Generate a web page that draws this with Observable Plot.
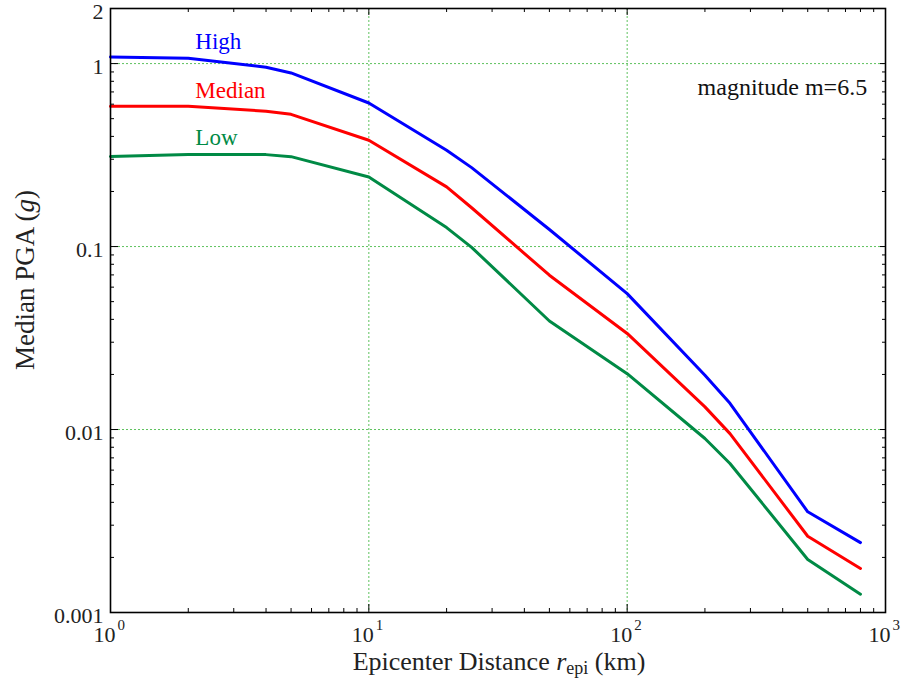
<!DOCTYPE html>
<html><head><meta charset="utf-8">
<script src="https://cdn.jsdelivr.net/npm/d3@7"></script>
<script src="https://cdn.jsdelivr.net/npm/@observablehq/plot@0.6"></script>
<style>body{margin:0;background:#fff} svg text{font-family:'Liberation Serif','Times New Roman',serif;}</style>
</head><body><div id="chart"></div>
<script>
// ---- data ----
const distance = [1, 2, 4, 5, 10, 20, 25, 50, 100, 200, 250, 500, 800];
const high   = [1.087, 1.068, 0.955, 0.889, 0.609, 0.336, 0.270, 0.124, 0.0553, 0.0198, 0.0139, 0.00355, 0.00241];
const median = [0.584, 0.584, 0.549, 0.528, 0.381, 0.212, 0.163, 0.0697, 0.0335, 0.0133, 0.0095, 0.00261, 0.00174];
const low    = [0.311, 0.318, 0.318, 0.310, 0.240, 0.127, 0.099, 0.0392, 0.0202, 0.00893, 0.00652, 0.00195, 0.00126];
const seriesNames  = ["High", "Median", "Low"];
const seriesColors = ["#0000ff", "#ff0000", "#008a45"];
const seriesValues = [high, median, low];
const labelAt = [{x: 2.13, y: 1.32}, {x: 2.13, y: 0.715}, {x: 2.13, y: 0.396}];
const annotation = "magnitude m=6.5";

// ---- ticks ----
const xMajor = [1, 10, 100, 1000];
const xMinor = [2,3,4,5,6,7,8,9, 20,30,40,50,60,70,80,90, 200,300,400,500,600,700,800,900];
const yMajor = [0.001, 0.01, 0.1, 1];
const yMinor = [0.002,0.003,0.004,0.005,0.006,0.007,0.008,0.009, 0.02,0.03,0.04,0.05,0.06,0.07,0.08,0.09, 0.2,0.3,0.4,0.5,0.6,0.7,0.8,0.9];
const yLabels = [0.001, 0.01, 0.1, 1, 2];
const gridX = [10, 100];
const gridY = [0.01, 0.1, 1];

const rows = seriesNames.flatMap((s, k) => distance.map((d, i) => ({series: s, distance: d, pga: seriesValues[k][i]})));
const labels = seriesNames.map((s, k) => ({series: s, ...labelAt[k]}));

const serif = "Liberation Serif";
const gridStyle = {stroke: "#4cbb4c", strokeDasharray: "2,2", strokeWidth: 1, strokeOpacity: 0.9};

const plot = Plot.plot({
  width: 901, height: 683,
  marginLeft: 110, marginRight: 16, marginTop: 8, marginBottom: 71,
  style: {fontFamily: serif, fontSize: "21px", color: "#222", background: "#fff"},
  x: {type: "log", domain: [1, 1000]},
  y: {type: "log", domain: [0.001, 2]},
  color: {domain: seriesNames, range: seriesColors},
  marks: [
    Plot.ruleX(gridX, gridStyle),
    Plot.ruleY(gridY, gridStyle),
    Plot.line(rows, {x: "distance", y: "pga", stroke: "series", strokeWidth: 3, z: "series"}),
    Plot.frame({stroke: "#000", strokeWidth: 1.6}),
    Plot.axisX(xMajor, {anchor: "bottom", tickSize: -8, fill: "none", stroke: "#000"}),
    Plot.axisX(xMinor, {anchor: "bottom", tickSize: -4, fill: "none", stroke: "#000"}),
    Plot.axisX(xMajor, {anchor: "top", tickSize: -6, fill: "none", stroke: "#000"}),
    Plot.axisX(xMinor, {anchor: "top", tickSize: -3, fill: "none", stroke: "#000"}),
    Plot.axisY(yMajor, {anchor: "left", tickSize: -8, fill: "none", stroke: "#000"}),
    Plot.axisY(yMinor, {anchor: "left", tickSize: -4, fill: "none", stroke: "#000"}),
    Plot.axisY(yMajor, {anchor: "right", tickSize: -6, fill: "none", stroke: "#000"}),
    Plot.axisY(yMinor, {anchor: "right", tickSize: -4, fill: "none", stroke: "#000"}),
    Plot.axisY(yLabels, {anchor: "left", tickSize: 0, tickPadding: 7, dy: 3, tickFormat: d => String(d), label: null, fontSize: 22, fill: "#222", fontFamily: serif}),
    Plot.text(xMajor, {x: d => d, frameAnchor: "bottom", text: () => "10", textAnchor: "end", lineAnchor: "top", dy: 14, dx: 5, fontSize: 22, fill: "#222", fontFamily: serif}),
    Plot.text(xMajor, {x: d => d, frameAnchor: "bottom", text: d => String(Math.round(Math.log10(d))), textAnchor: "start", lineAnchor: "top", dy: 7, dx: 7, fontSize: 15, fill: "#222", fontFamily: serif}),
    Plot.text(labels, {x: "x", y: "y", text: "series", fill: "series", textAnchor: "start", fontSize: 23, fontFamily: serif}),
    Plot.text([annotation], {x: () => 849, y: () => 0.742, text: d => d, textAnchor: "end", fontSize: 24, fill: "#111", fontFamily: serif})
  ]
});

const svg = d3.select(plot);
const xt = svg.append("text").attr("x", 499).attr("y", 670).attr("text-anchor", "middle")
  .attr("font-size", 26).attr("fill", "#222").attr("font-family", serif);
xt.append("tspan").text("Epicenter Distance ");
xt.append("tspan").attr("font-style", "italic").text("r");
xt.append("tspan").attr("font-size", 18).attr("dy", 4).text("epi");
xt.append("tspan").attr("dy", -4).text(" (km)");

const yt = svg.append("text").attr("transform", "translate(34,280) rotate(-90)").attr("text-anchor", "middle")
  .attr("font-size", 27).attr("fill", "#222").attr("font-family", serif);
yt.append("tspan").text("Median PGA (");
yt.append("tspan").attr("font-style", "italic").text("g");
yt.append("tspan").text(")");

svg.selectAll("text").attr("font-family", serif);
document.getElementById("chart").appendChild(plot);
</script>
</body></html>
